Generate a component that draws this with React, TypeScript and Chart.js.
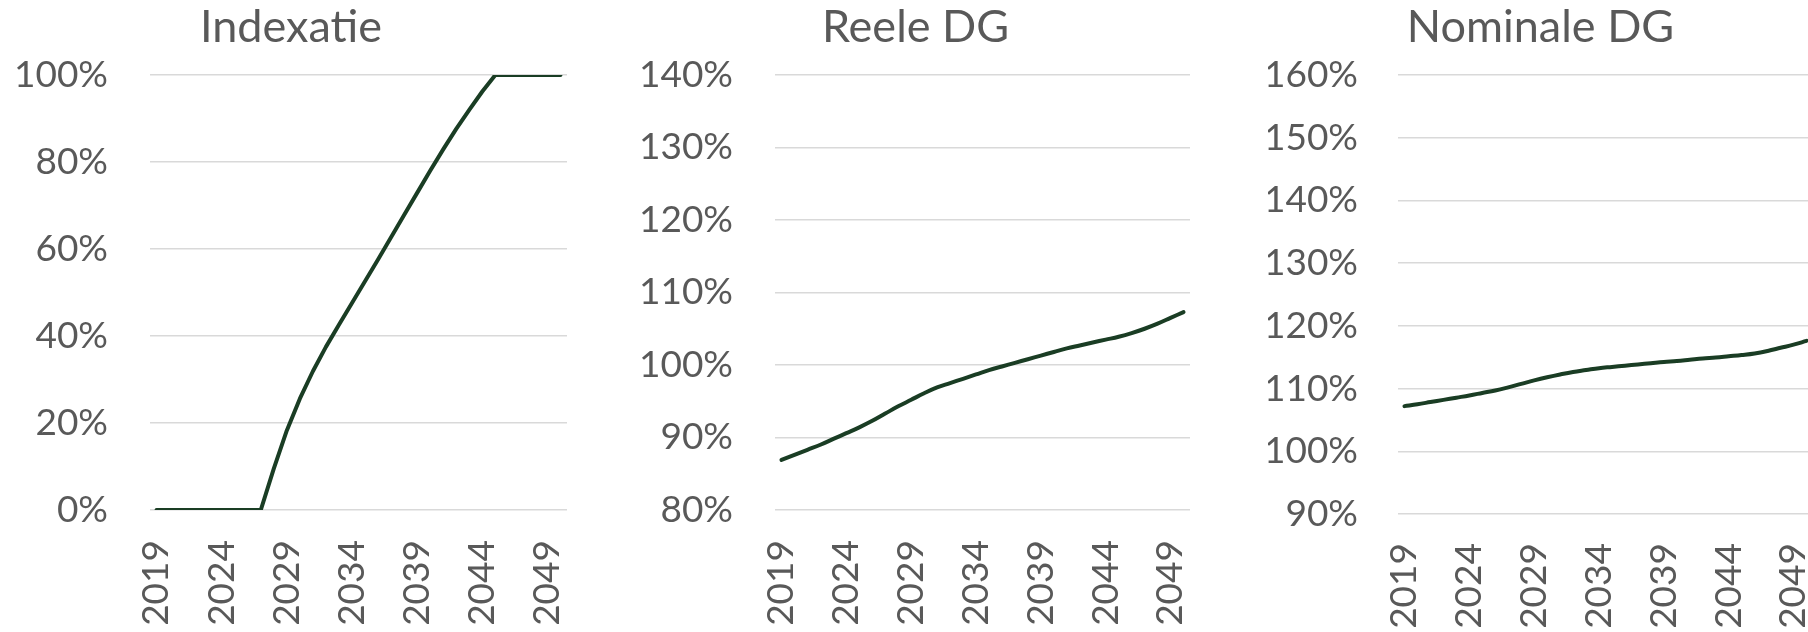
import React, { useEffect, useRef } from 'react';
import { Chart, registerables } from 'chart.js';

Chart.register(...registerables);

// ---- Data ----
const years = [
  '2019', '2020', '2021', '2022', '2023', '2024', '2025', '2026', '2027', '2028',
  '2029', '2030', '2031', '2032', '2033', '2034', '2035', '2036', '2037', '2038',
  '2039', '2040', '2041', '2042', '2043', '2044', '2045', '2046', '2047', '2048',
  '2049', '2050',
];
const shownYears = ['2019', '2024', '2029', '2034', '2039', '2044', '2049'];

const indexatie = [
  0, 0, 0, 0, 0, 0, 0, 0, 0, 9.5,
  18.3, 25.6, 31.9, 37.5, 42.6, 47.6, 52.6, 57.6, 62.7, 67.8,
  72.9, 78.0, 82.9, 87.6, 92.0, 96.2, 100, 100, 100, 100,
  100, 100,
];
const reeleDG = [
  86.9, 87.6, 88.3, 89.0, 89.8, 90.6, 91.4, 92.3, 93.3, 94.3,
  95.2, 96.1, 96.9, 97.5, 98.1, 98.7, 99.3, 99.8, 100.3, 100.8,
  101.3, 101.8, 102.3, 102.7, 103.1, 103.5, 103.9, 104.4, 105.0, 105.7,
  106.5, 107.3,
];
const nominaleDG = [
  107.2, 107.5, 107.85, 108.2, 108.55, 108.9, 109.3, 109.7, 110.2, 110.75,
  111.3, 111.8, 112.25, 112.65, 112.95, 113.25, 113.45, 113.65, 113.85, 114.05,
  114.25, 114.4, 114.6, 114.8, 114.95, 115.15, 115.35, 115.6, 116.0, 116.5,
  117.0, 117.6,
];

const FONT = 'Lato, "Open Sans", sans-serif';
const TEXT = '#595959';
const GRID = '#d9d9d9';
const LINE = '#1a3d24';

type PanelProps = {
  left: number;
  width: number;
  title: string;
  values: number[];
  min: number;
  max: number;
  step: number;
  padLeft: number;
  yWidth: number;
  xHeight: number;
  yTickPad: number;
  xTickPad: number;
  tension: number;
};

function Panel(p: PanelProps) {
  const ref = useRef<HTMLCanvasElement>(null);
  useEffect(() => {
    const chart = new Chart(ref.current as HTMLCanvasElement, {
      type: 'line',
      data: {
        labels: years,
        datasets: [
          {
            data: p.values,
            borderColor: LINE,
            borderWidth: 4,
            pointRadius: 0,
            tension: p.tension,
            fill: false,
            borderCapStyle: 'round',
            borderJoinStyle: 'round',
          },
        ],
      },
      options: {
        animation: false,
        responsive: false,
        devicePixelRatio: 1,
        layout: { padding: { left: p.padLeft, right: 16, top: 0, bottom: 0 } },
        plugins: {
          legend: { display: false },
          tooltip: { enabled: false },
          title: {
            display: true,
            text: p.title,
            color: TEXT,
            font: { family: FONT, size: 45, weight: 'normal', lineHeight: 1.2 },
            padding: { top: 0, bottom: 21 },
          },
        },
        scales: {
          x: {
            offset: true,
            grid: { display: false, drawTicks: false },
            border: { display: false },
            ticks: {
              autoSkip: false,
              minRotation: 90,
              maxRotation: 90,
              padding: p.xTickPad,
              color: TEXT,
              font: { family: FONT, size: 37 },
              callback: (_v: any, i: number) => (shownYears.includes(years[i]) ? years[i] : ''),
            },
            afterFit: (s: any) => {
              s.height = p.xHeight;
              s.paddingLeft = 0;
              s.paddingRight = 0;
            },
          },
          y: {
            min: p.min,
            max: p.max,
            grid: { color: GRID, lineWidth: 1.5, drawTicks: false },
            border: { display: false },
            ticks: {
              stepSize: p.step,
              padding: p.yTickPad,
              color: TEXT,
              font: { family: FONT, size: 37 },
              callback: (v: any) => `${v}%`,
            },
            afterFit: (s: any) => {
              s.width = p.yWidth;
              s.paddingTop = 0;
              s.paddingBottom = 0;
            },
          },
        },
      },
    } as any);
    return () => chart.destroy();
  }, []);
  return (
    <canvas
      ref={ref}
      width={p.width}
      height={632}
      style={{ position: 'absolute', left: p.left, top: 0, width: p.width, height: 632 }}
    />
  );
}

export default function App() {
  return (
    <div
      style={{
        position: 'fixed',
        left: 0,
        top: 0,
        width: 1808,
        height: 632,
        overflow: 'hidden',
        background: '#ffffff',
      }}
    >
      <Panel
        left={0}
        width={583}
        title="Indexatie"
        values={indexatie}
        min={0}
        max={100}
        step={20}
        padLeft={15}
        yWidth={135}
        xHeight={122}
        yTickPad={42}
        xTickPad={30}
        tension={0}
      />
      <Panel
        left={625}
        width={581}
        title="Reele DG"
        values={reeleDG}
        min={80}
        max={140}
        step={10}
        padLeft={16}
        yWidth={134}
        xHeight={122}
        yTickPad={42}
        xTickPad={30}
        tension={0.4}
      />
      <Panel
        left={1250}
        width={579}
        title="Nominale DG"
        values={nominaleDG}
        min={90}
        max={160}
        step={10}
        padLeft={18}
        yWidth={130}
        xHeight={118}
        yTickPad={40}
        xTickPad={29}
        tension={0.4}
      />
    </div>
  );
}
